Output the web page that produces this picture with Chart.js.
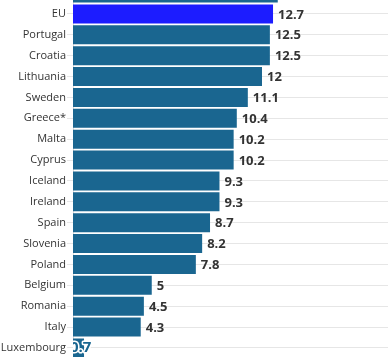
<!DOCTYPE html>
<html><head><meta charset="utf-8">
<script src="https://cdn.jsdelivr.net/npm/chart.js@4/dist/chart.umd.min.js"></script>
<style>
html,body{margin:0;padding:0;background:#fff;overflow:hidden;width:388px;height:357px;}
#wrap{position:absolute;left:0;top:-25px;width:388px;height:391px;}
</style></head><body>
<div id="wrap"><canvas id="c" width="388" height="391"></canvas></div>
<script>
const categories = ["", "EU", "Portugal", "Croatia", "Lithuania", "Sweden", "Greece*", "Malta", "Cyprus", "Iceland", "Ireland", "Spain", "Slovenia", "Poland", "Belgium", "Romania", "Italy", "Luxembourg"];
const values = [13.0, 12.7, 12.5, 12.5, 12, 11.1, 10.4, 10.2, 10.2, 9.3, 9.3, 8.7, 8.2, 7.8, 5, 4.5, 4.3, 0.7];
const valueLabels = ["", "12.7", "12.5", "12.5", "12", "11.1", "10.4", "10.2", "10.2", "9.3", "9.3", "8.7", "8.2", "7.8", "5", "4.5", "4.3", "0.7"];
const BAR = "#1a6690", HI = "#1c1cff";
const colors = categories.map(c => c === "EU" ? HI : BAR);

const labelPlugin = {
  id: 'vlabels',
  afterDatasetsDraw(chart) {
    const ctx = chart.ctx, meta = chart.getDatasetMeta(0), ca = chart.chartArea;
    ctx.save();
    ctx.textBaseline = "middle";
    ctx.textAlign = "left";
    meta.data.forEach((bar, i) => {
      const txt = valueLabels[i];
      if (!txt) return;
      if (values[i] < 2) {
        ctx.save();
        ctx.font = "bold 15px 'Open Sans'";
        ctx.beginPath(); ctx.rect(ca.left, ca.top, ca.right - ca.left, ca.bottom - ca.top); ctx.clip();
        ctx.lineWidth = 3; ctx.strokeStyle = "#fff"; ctx.lineJoin = "round";
        ctx.strokeText(txt, ca.left - 3, bar.y);
        ctx.fillStyle = BAR;
        ctx.fillText(txt, ca.left - 3, bar.y);
        ctx.restore();
      } else {
        ctx.font = "bold 13px 'Open Sans'";
        ctx.fillStyle = "#333";
        ctx.fillText(txt, bar.x + 5, bar.y + 1);
      }
    });
    ctx.restore();
  }
};

new Chart(document.getElementById('c'), {
  type: 'bar',
  data: { labels: categories, datasets: [{ data: values, backgroundColor: colors, barPercentage: 0.91, categoryPercentage: 1 }] },
  options: {
    indexAxis: 'y', responsive: false, animation: false,
    layout: { padding: 0 },
    plugins: { legend: { display: false }, tooltip: { enabled: false } },
    scales: {
      x: { display: false, min: 0, max: 20 },
      y: {
        grid: { offset: false, color: "#e6e6e6", tickLength: 6, drawTicks: true },
        border: { display: true, color: "#dddddd" },
        ticks: { color: "#333", font: { family: "'Open Sans'", size: 11 }, padding: 1, autoSkip: false },
        afterFit(s) { s.width = 73; }
      }
    }
  },
  plugins: [labelPlugin]
});
</script></body></html>
